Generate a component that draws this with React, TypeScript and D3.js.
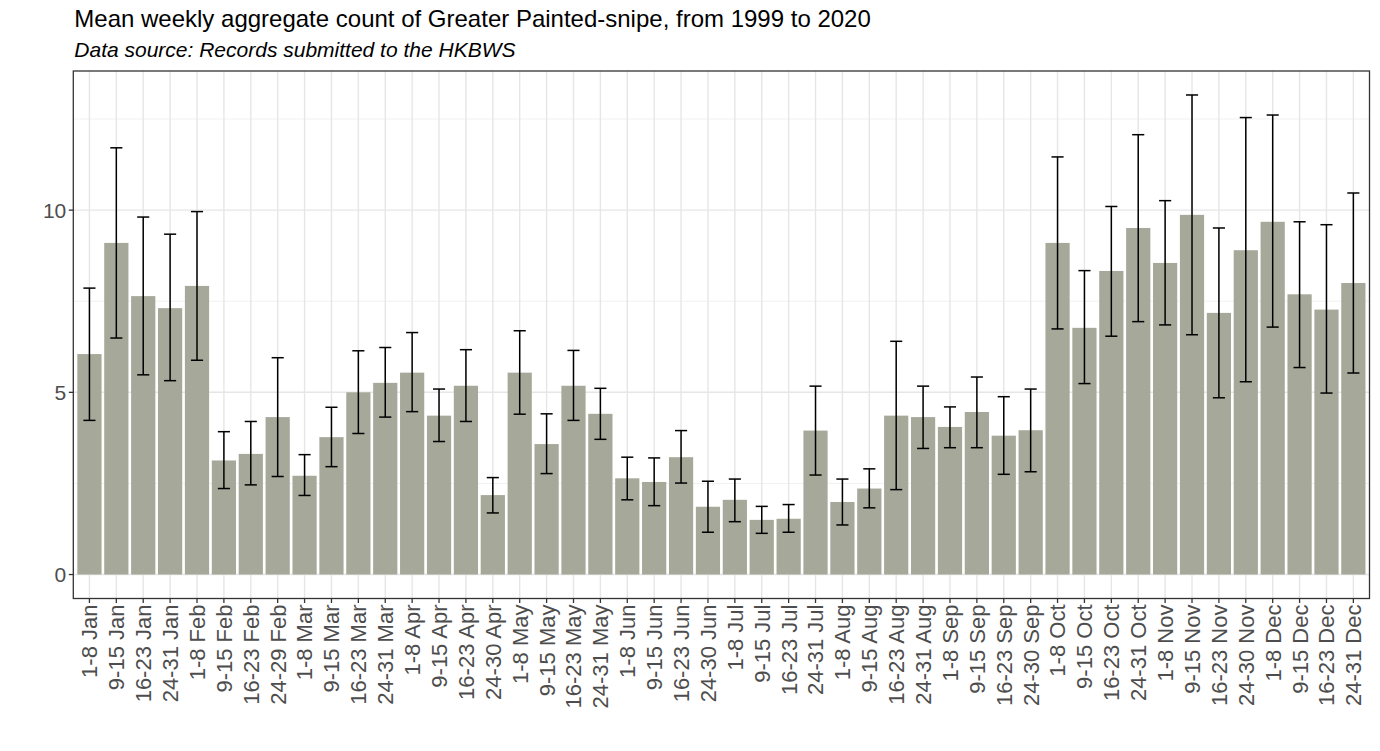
import { useEffect, useRef } from 'react';
import * as d3 from 'd3';

const weeks = [
  '1-8 Jan', '9-15 Jan', '16-23 Jan', '24-31 Jan',
  '1-8 Feb', '9-15 Feb', '16-23 Feb', '24-29 Feb',
  '1-8 Mar', '9-15 Mar', '16-23 Mar', '24-31 Mar',
  '1-8 Apr', '9-15 Apr', '16-23 Apr', '24-30 Apr',
  '1-8 May', '9-15 May', '16-23 May', '24-31 May',
  '1-8 Jun', '9-15 Jun', '16-23 Jun', '24-30 Jun',
  '1-8 Jul', '9-15 Jul', '16-23 Jul', '24-31 Jul',
  '1-8 Aug', '9-15 Aug', '16-23 Aug', '24-31 Aug',
  '1-8 Sep', '9-15 Sep', '16-23 Sep', '24-30 Sep',
  '1-8 Oct', '9-15 Oct', '16-23 Oct', '24-31 Oct',
  '1-8 Nov', '9-15 Nov', '16-23 Nov', '24-30 Nov',
  '1-8 Dec', '9-15 Dec', '16-23 Dec', '24-31 Dec',
];

const meanCount = [
  6.05, 9.10, 7.64, 7.31, 7.92, 3.13, 3.31, 4.32,
  2.71, 3.77, 5.00, 5.26, 5.54, 4.36, 5.18, 2.18,
  5.54, 3.58, 5.18, 4.41, 2.64, 2.54, 3.22, 1.86,
  2.05, 1.50, 1.53, 3.95, 1.99, 2.36, 4.36, 4.32,
  4.05, 4.46, 3.81, 3.96, 9.10, 6.77, 8.33, 9.51,
  8.55, 9.87, 7.18, 8.90, 9.68, 7.69, 7.27, 8.00,
];

const lowerCount = [
  4.23, 6.49, 5.48, 5.32, 5.88, 2.36, 2.46, 2.69,
  2.17, 2.96, 3.87, 4.32, 4.47, 3.65, 4.20, 1.69,
  4.40, 2.77, 4.23, 3.71, 2.05, 1.89, 2.51, 1.16,
  1.45, 1.13, 1.16, 2.73, 1.36, 1.83, 2.33, 3.46,
  3.48, 3.48, 2.75, 2.82, 6.74, 5.24, 6.54, 6.94,
  6.85, 6.58, 4.85, 5.29, 6.79, 5.68, 4.98, 5.53,
];

const upperCount = [
  7.86, 11.71, 9.81, 9.34, 9.96, 3.92, 4.20, 5.95,
  3.29, 4.59, 6.14, 6.23, 6.64, 5.09, 6.17, 2.66,
  6.69, 4.41, 6.15, 5.11, 3.22, 3.20, 3.95, 2.56,
  2.62, 1.87, 1.92, 5.17, 2.62, 2.90, 6.40, 5.17,
  4.60, 5.42, 4.88, 5.09, 11.46, 8.34, 10.10, 12.07,
  10.26, 13.16, 9.51, 12.54, 12.61, 9.68, 9.60, 10.47,
];

const majorTicks = [0, 5, 10];
const minorTicks = [2.5, 7.5, 12.5];

const titleText = 'Mean weekly aggregate count of Greater Painted-snipe, from 1999 to 2020';
const subtitleText = 'Data source: Records submitted to the HKBWS';

export default function App() {
  const svgRef = useRef<SVGSVGElement>(null);

  useEffect(() => {
    if (!svgRef.current) return;
    const svg = d3.select(svgRef.current);
    svg.selectAll('*').remove();

    const W = 1380;
    const H = 751;
    const panel = { left: 73.3, right: 1369.5, top: 71, bottom: 598.5 };
    const font = '"Liberation Sans", Arial, sans-serif';

    svg.attr('width', W).attr('height', H);
    svg.append('rect').attr('width', W).attr('height', H).attr('fill', '#fff');

    // ggplot-like discrete expansion: 0.6 units each side, bar width 0.9
    const x = d3.scaleBand<string>()
      .domain(weeks)
      .range([panel.left, panel.right])
      .paddingInner(0.1)
      .paddingOuter(0.15);
    const cx = (w: string) => (x(w) ?? 0) + x.bandwidth() / 2;

    const maxU = d3.max(upperCount) ?? 1;
    const pad = maxU * 0.05;
    const y = d3.scaleLinear()
      .domain([-pad, maxU + pad])
      .range([panel.bottom, panel.top]);

    const g = svg.append('g');

    // Grid
    g.selectAll('line.minor')
      .data(minorTicks)
      .enter()
      .append('line')
      .attr('x1', panel.left).attr('x2', panel.right)
      .attr('y1', d => y(d)).attr('y2', d => y(d))
      .attr('stroke', '#ebebeb').attr('stroke-width', 0.7);

    g.selectAll('line.major')
      .data(majorTicks)
      .enter()
      .append('line')
      .attr('x1', panel.left).attr('x2', panel.right)
      .attr('y1', d => y(d)).attr('y2', d => y(d))
      .attr('stroke', '#e6e6e6').attr('stroke-width', 1.4);

    g.selectAll('line.vgrid')
      .data(weeks)
      .enter()
      .append('line')
      .attr('x1', d => cx(d)).attr('x2', d => cx(d))
      .attr('y1', panel.top).attr('y2', panel.bottom)
      .attr('stroke', '#e6e6e6').attr('stroke-width', 1.4);

    // Bars
    g.selectAll('rect.bar')
      .data(weeks)
      .enter()
      .append('rect')
      .attr('x', d => x(d) ?? 0)
      .attr('width', x.bandwidth())
      .attr('y', (_, i) => y(meanCount[i]))
      .attr('height', (_, i) => y(0) - y(meanCount[i]))
      .attr('fill', '#a6a899');

    // Error bars
    const capHalf = x.step() * 0.225;
    const eb = g.selectAll('g.eb')
      .data(weeks)
      .enter()
      .append('g')
      .attr('stroke', '#000')
      .attr('stroke-width', 1.5)
      .attr('fill', 'none');
    eb.append('line')
      .attr('x1', d => cx(d)).attr('x2', d => cx(d))
      .attr('y1', (_, i) => y(lowerCount[i])).attr('y2', (_, i) => y(upperCount[i]));
    eb.append('line')
      .attr('x1', d => cx(d) - capHalf).attr('x2', d => cx(d) + capHalf)
      .attr('y1', (_, i) => y(upperCount[i])).attr('y2', (_, i) => y(upperCount[i]));
    eb.append('line')
      .attr('x1', d => cx(d) - capHalf).attr('x2', d => cx(d) + capHalf)
      .attr('y1', (_, i) => y(lowerCount[i])).attr('y2', (_, i) => y(lowerCount[i]));

    // Panel border
    svg.append('rect')
      .attr('x', panel.left).attr('y', panel.top)
      .attr('width', panel.right - panel.left)
      .attr('height', panel.bottom - panel.top)
      .attr('fill', 'none')
      .attr('stroke', '#333')
      .attr('stroke-width', 1.3);

    // Y axis ticks and labels
    const yAxis = svg.append('g');
    yAxis.selectAll('line')
      .data(majorTicks)
      .enter()
      .append('line')
      .attr('x1', panel.left - 4.5).attr('x2', panel.left)
      .attr('y1', d => y(d)).attr('y2', d => y(d))
      .attr('stroke', '#333').attr('stroke-width', 1.3);
    yAxis.selectAll('text')
      .data(majorTicks)
      .enter()
      .append('text')
      .attr('x', panel.left - 7)
      .attr('y', d => y(d))
      .attr('dy', '0.36em')
      .attr('text-anchor', 'end')
      .style('font-family', font)
      .style('font-size', '21px')
      .style('fill', '#4d4d4d')
      .text(d => d3.format('d')(d));

    // X axis ticks and labels
    const xAxis = svg.append('g');
    xAxis.selectAll('line')
      .data(weeks)
      .enter()
      .append('line')
      .attr('x1', d => cx(d)).attr('x2', d => cx(d))
      .attr('y1', panel.bottom).attr('y2', panel.bottom + 4.5)
      .attr('stroke', '#333').attr('stroke-width', 1.3);
    xAxis.selectAll('text')
      .data(weeks)
      .enter()
      .append('text')
      .attr('transform', d => `translate(${cx(d)},${panel.bottom + 6}) rotate(-90)`)
      .attr('dy', '0.36em')
      .attr('text-anchor', 'end')
      .style('font-family', font)
      .style('font-size', '22px')
      .style('fill', '#4d4d4d')
      .text(d => d);

    // Titles
    svg.append('text')
      .attr('x', 74.3)
      .attr('y', 27.3)
      .style('font-family', font)
      .style('font-size', '24px')
      .style('fill', '#000')
      .text(titleText);

    svg.append('text')
      .attr('x', 74.3)
      .attr('y', 57.3)
      .style('font-family', font)
      .style('font-size', '21px')
      .style('font-style', 'italic')
      .style('fill', '#000')
      .text(subtitleText);
  }, []);

  return (
    <div style={{ position: 'absolute', left: 0, top: 0 }}>
      <svg ref={svgRef} style={{ display: 'block' }} />
    </div>
  );
}
